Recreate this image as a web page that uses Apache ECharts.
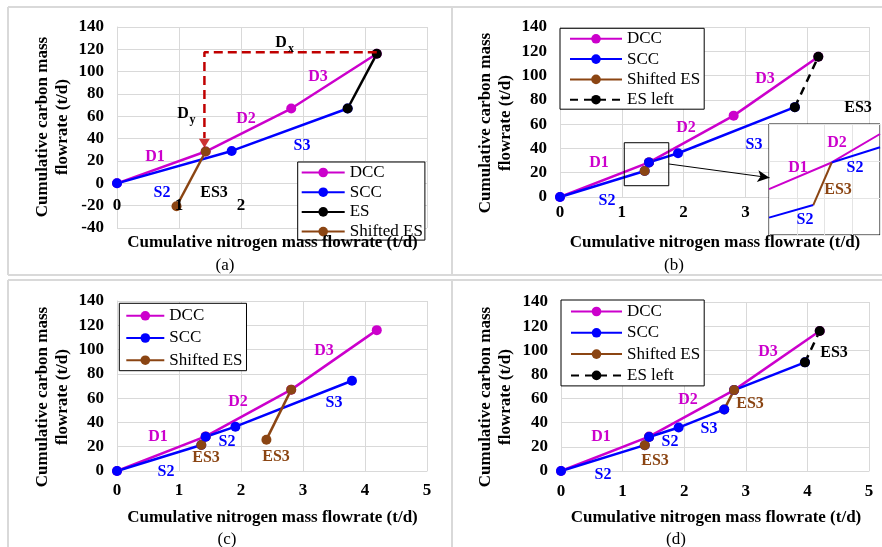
<!DOCTYPE html>
<html><head><meta charset="utf-8">
<script src="https://cdn.jsdelivr.net/npm/echarts@6/dist/echarts.min.js"></script>
<style>html,body{margin:0;padding:0;background:#fff}#c{width:882px;height:547px}</style>
</head><body><div id="c"></div><script>
// ---------- data ----------
// Panel (a)
const A_DCC_X = [0, 1.43, 2.81, 4.19], A_DCC_Y = [0, 28.5, 67, 116];
const A_SCC_X = [0, 1.85, 3.72],       A_SCC_Y = [0, 29, 67];
const A_ES_X  = [3.72, 4.19],          A_ES_Y  = [67, 116];
const A_SES_X = [0.96, 1.43],          A_SES_Y = [-20.5, 28.5];
const A_DASH_X = [4.19, 1.41, 1.41],   A_DASH_Y = [117.3, 117.3, 40.5];
const A_ARROW_X = [1.41],              A_ARROW_Y = [35.8];
// Panel (b)
const B_DCC_X = [0, 1.44, 2.81, 4.18], B_DCC_Y = [0, 28.5, 67, 115.5];
const B_SCC1_X = [0, 1.37],            B_SCC1_Y = [0, 21.4];
const B_SES_X = [1.37, 1.44],          B_SES_Y = [21.4, 28.5];
const B_SCC2_X = [1.44, 1.91, 3.80],   B_SCC2_Y = [28.5, 36, 74];
const B_ESL_X = [3.80, 4.18],          B_ESL_Y = [74, 115.5];
const B_BOX_X = [1.04, 1.76, 1.76, 1.04, 1.04], B_BOX_Y = [9.3, 9.3, 44.7, 44.7, 9.3];
const B_LINK_FROM = [1.76, 27.2], B_LINK_TO = [3.39, 15.9];
// Inset of (b)
const I_DCC_X = [1.0, 1.452, 1.8],     I_DCC_Y = [22.4, 29.6, 37.3];
const I_SCCU_X = [1.452, 1.8],         I_SCCU_Y = [29.6, 33.7];
const I_SCCL_X = [1.0, 1.319],         I_SCCL_Y = [14.7, 18.1];
const I_SES_X = [1.319, 1.452],        I_SES_Y = [18.1, 29.6];
// Panel (c)
const C_DCC_X = [0, 1.43, 2.81, 4.19], C_DCC_Y = [0, 28.5, 67, 116];
const C_SCC1_X = [0, 1.36],            C_SCC1_Y = [0, 21.4];
const C_SES1_X = [1.36, 1.43],         C_SES1_Y = [21.4, 28.2];
const C_SCC2_X = [1.43, 1.91, 3.79],   C_SCC2_Y = [28.2, 36.5, 74.3];
const C_SES2_X = [2.41, 2.81],         C_SES2_Y = [25.8, 67];
// Panel (d)
const D_DCC_X = [0, 1.43, 2.81, 4.2],  D_DCC_Y = [0, 28.5, 67, 116];
const D_SCC1_X = [0, 1.36],            D_SCC1_Y = [0, 21.4];
const D_SES1_X = [1.36, 1.43],         D_SES1_Y = [21.4, 28.2];
const D_SCC3_X = [2.81, 3.96],         D_SCC3_Y = [67, 90];
const D_SES2_X = [2.65, 2.81],         D_SES2_Y = [51, 67];
const D_SCC2_X = [1.43, 1.91, 2.65],   D_SCC2_Y = [28.2, 36, 51];
const D_ESL_X = [3.96, 4.2],           D_ESL_Y = [90, 116];

const LEG_A = ['DCC', 'SCC', 'ES', 'Shifted ES'];
const LEG_B = ['DCC', 'SCC', 'Shifted ES', 'ES left'];
const LEG_C = ['DCC', 'SCC', 'Shifted ES'];
const LEG_D = ['DCC', 'SCC', 'Shifted ES', 'ES left'];

const Y_TITLE = ['Cumulative carbon mass', 'flowrate (t/d)'];
const X_TITLE = 'Cumulative nitrogen mass flowrate (t/d)';

// ---------- styling ----------
const FONT = '"Liberation Serif","Times New Roman",serif';
const MAG = '#CC00CC', BLU = '#0000FF', BRN = '#8B4513', BLK = '#000000', RED = '#C00000', GRIDC = '#d9d9d9';

function pts(xs, ys) { return xs.map((x, i) => [x, ys[i]]); }
function ser(name, xs, ys, color, gi, extra) {
  return Object.assign({
    type: 'line', name, xAxisIndex: gi, yAxisIndex: gi, data: pts(xs, ys),
    symbol: 'circle', symbolSize: 10, showSymbol: true,
    lineStyle: { color, width: 2.5 }, itemStyle: { color },
    animation: false, z: 2
  }, extra || {});
}
function xax(gi, margin, fmt, offset, showLabel) {
  return {
    type: 'value', gridIndex: gi, position: 'bottom', min: 0, max: 5, interval: 1, offset: offset || 0,
    axisLine: { show: true, onZero: false, lineStyle: { color: GRIDC, width: 1 } },
    axisTick: { show: false },
    splitLine: { show: true, lineStyle: { color: GRIDC, width: 1 } },
    axisLabel: { show: showLabel !== false, color: '#000', fontFamily: FONT, fontWeight: 'bold', fontSize: 17, margin, formatter: fmt }
  };
}
function yax(gi, min) {
  return {
    type: 'value', gridIndex: gi, min, max: 140, interval: 20,
    axisLine: { show: true, onZero: false, lineStyle: { color: GRIDC, width: 1 } },
    axisTick: { show: false },
    splitLine: { show: true, lineStyle: { color: GRIDC, width: 1 } },
    axisLabel: { color: '#000', fontFamily: FONT, fontWeight: 'bold', fontSize: 17, margin: 13 }
  };
}
function legend(data, left, top, itemWidth, gap, padding) {
  return {
    data, orient: 'vertical', left, top, itemWidth, itemHeight: 12, itemGap: gap, padding,
    backgroundColor: '#fff', borderColor: '#000', borderWidth: 1, selectedMode: false,
    textStyle: { fontFamily: FONT, fontSize: 17, color: '#000', lineHeight: 14 }
  };
}

const series = [
  // (a)
  ser('DCC', A_DCC_X, A_DCC_Y, MAG, 0),
  ser('SCC', A_SCC_X, A_SCC_Y, BLU, 0),
  ser('ES', A_ES_X, A_ES_Y, BLK, 0),
  ser('Shifted ES', A_SES_X, A_SES_Y, BRN, 0),
  { type: 'line', xAxisIndex: 0, yAxisIndex: 0, data: pts(A_DASH_X, A_DASH_Y), showSymbol: false, symbol: 'none',
    lineStyle: { color: RED, width: 2.5, type: [9, 5] }, animation: false, z: 3 },
  { type: 'scatter', xAxisIndex: 0, yAxisIndex: 0, data: pts(A_ARROW_X, A_ARROW_Y), symbol: 'triangle',
    symbolSize: [11, 9], symbolRotate: 180, itemStyle: { color: RED }, animation: false, z: 3 },
  // (b)
  ser('DCC', B_DCC_X, B_DCC_Y, MAG, 1),
  ser('SCC', B_SCC1_X, B_SCC1_Y, BLU, 1),
  ser('Shifted ES', B_SES_X, B_SES_Y, BRN, 1),
  ser('SCC', B_SCC2_X, B_SCC2_Y, BLU, 1),
  ser('ES left', B_ESL_X, B_ESL_Y, BLK, 1, { lineStyle: { color: BLK, width: 2.5, type: [8, 6] } }),
  { type: 'line', xAxisIndex: 1, yAxisIndex: 1, data: pts(B_BOX_X, B_BOX_Y), symbol: 'none', showSymbol: false,
    lineStyle: { color: '#000', width: 1 }, animation: false, z: 3,
    markLine: { silent: true, animation: false, symbol: ['none', 'arrow'], symbolSize: [9, 12],
      label: { show: false }, lineStyle: { color: '#000', width: 1, type: 'solid' },
      data: [[{ coord: B_LINK_FROM }, { coord: B_LINK_TO }]] } },
  // inset
  ser('DCC', I_DCC_X, I_DCC_Y, MAG, 4, { showSymbol: false, symbol: 'none', lineStyle: { color: MAG, width: 2 }, z: 6 }),
  ser('SCC', I_SCCU_X, I_SCCU_Y, BLU, 4, { showSymbol: false, symbol: 'none', lineStyle: { color: BLU, width: 2 }, z: 6 }),
  ser('SCC', I_SCCL_X, I_SCCL_Y, BLU, 4, { showSymbol: false, symbol: 'none', lineStyle: { color: BLU, width: 2 }, z: 6 }),
  ser('Shifted ES', I_SES_X, I_SES_Y, BRN, 4, { showSymbol: false, symbol: 'none', lineStyle: { color: BRN, width: 2 }, z: 6 }),
  // (c)
  ser('DCC', C_DCC_X, C_DCC_Y, MAG, 2),
  ser('SCC', C_SCC1_X, C_SCC1_Y, BLU, 2),
  ser('Shifted ES', C_SES1_X, C_SES1_Y, BRN, 2),
  ser('SCC', C_SCC2_X, C_SCC2_Y, BLU, 2),
  ser('Shifted ES', C_SES2_X, C_SES2_Y, BRN, 2),
  // (d)
  ser('DCC', D_DCC_X, D_DCC_Y, MAG, 3),
  ser('SCC', D_SCC1_X, D_SCC1_Y, BLU, 3),
  ser('Shifted ES', D_SES1_X, D_SES1_Y, BRN, 3),
  ser('SCC', D_SCC3_X, D_SCC3_Y, BLU, 3),
  ser('Shifted ES', D_SES2_X, D_SES2_Y, BRN, 3),
  ser('SCC', D_SCC2_X, D_SCC2_Y, BLU, 3),
  ser('ES left', D_ESL_X, D_ESL_Y, BLK, 3, { lineStyle: { color: BLK, width: 2.5, type: [8, 6] } })
];

// annotation texts: [text, x, y, color, size]
const NOTES = [
  // (a)
  ['D1', 155, 157, MAG], ['D2', 246, 119, MAG], ['D3', 318, 77, MAG],
  ['S3', 302, 146, BLU], ['S2', 162, 193, BLU], ['ES3', 214, 193, BLK],
  ['D', 281, 42.5, BLK], ['x', 291, 48.5, BLK, 12], ['D', 183, 114, BLK], ['y', 192.5, 120, BLK, 12],
  // (b)
  ['D1', 599, 163, MAG], ['S2', 607, 201, BLU], ['D2', 686, 128, MAG], ['S3', 754, 145, BLU],
  ['D3', 765, 79, MAG], ['ES3', 858, 108, BLK],
  ['D2', 837, 143, MAG], ['D1', 798, 168, MAG], ['S2', 855, 168, BLU], ['ES3', 838, 190, BRN], ['S2', 805, 220, BLU],
  // (c)
  ['D1', 158, 437, MAG], ['S2', 166, 472, BLU], ['ES3', 206, 458, BRN], ['S2', 227, 442, BLU],
  ['D2', 238, 402, MAG], ['S3', 334, 403, BLU], ['D3', 324, 351, MAG], ['ES3', 276, 457, BRN],
  // (d)
  ['D1', 601, 437, MAG], ['S2', 603, 475, BLU], ['ES3', 655, 461, BRN], ['S2', 670, 442, BLU],
  ['S3', 709, 429, BLU], ['D2', 688, 400, MAG], ['ES3', 750, 404, BRN], ['D3', 768, 352, MAG], ['ES3', 834, 353, BLK]
];

const graphic = [];
// panel frame lines
[[8, 7, 882, 7], [8, 7, 8, 275], [8, 280, 8, 547], [452, 7, 452, 275], [452, 280, 452, 547],
 [8, 275, 882, 275], [8, 280, 882, 280]].forEach(l => graphic.push({
  type: 'line', shape: { x1: l[0], y1: l[1], x2: l[2], y2: l[3] }, style: { stroke: '#d9d9d9', lineWidth: 2 }, z: 0, silent: true }));
NOTES.forEach(n => graphic.push({
  type: 'text', x: n[1], y: n[2], z: 20, silent: true,
  style: { text: n[0], fill: n[3], font: 'bold ' + (n[4] || 16) + 'px ' + FONT, align: 'center', verticalAlign: 'middle' } }));
// axis titles
[[43, 63, 127], [486, 506, 123], [43, 63, 397], [486, 506, 397]].forEach(t => {
  graphic.push({ type: 'text', x: t[0], y: t[2], rotation: Math.PI / 2, z: 20, silent: true,
    style: { text: Y_TITLE[0], fill: '#000', font: 'bold 17px ' + FONT, align: 'center', verticalAlign: 'middle' } });
  graphic.push({ type: 'text', x: t[1], y: t[2], rotation: Math.PI / 2, z: 20, silent: true,
    style: { text: Y_TITLE[1], fill: '#000', font: 'bold 17px ' + FONT, align: 'center', verticalAlign: 'middle' } });
});
[[272.5, 243], [715, 243], [272.5, 518], [716, 518]].forEach(t => graphic.push({
  type: 'text', x: t[0], y: t[1], z: 20, silent: true,
  style: { text: X_TITLE, fill: '#000', font: 'bold 17px ' + FONT, align: 'center', verticalAlign: 'middle' } }));
[['(a)', 225, 265.5], ['(b)', 674, 265.5], ['(c)', 227, 540], ['(d)', 676, 540]].forEach(t => graphic.push({
  type: 'text', x: t[1], y: t[2], z: 20, silent: true,
  style: { text: t[0], fill: '#000', font: '17px ' + FONT, align: 'center', verticalAlign: 'middle' } }));

// label-only axis for panel (a), drawn above the series (its tick labels sit inside the plot)
const aLabelAxis = xax(0, 14, v => (v <= 2 ? String(v) : ''), -44.7);
aLabelAxis.axisLine = { show: false };
aLabelAxis.splitLine = { show: false };
aLabelAxis.z = 8;

const chart = echarts.init(document.getElementById('c'), null, { renderer: 'canvas' });
chart.setOption({
  backgroundColor: '#fff',
  animation: false,
  grid: [
    { left: 117, top: 27, width: 310, height: 201 },
    { left: 560, top: 27, width: 309, height: 170 },
    { left: 117, top: 301, width: 310, height: 170 },
    { left: 561, top: 302, width: 308, height: 169 },
    { left: 769, top: 124, width: 111, height: 111, show: true, backgroundColor: '#fff', borderColor: '#000', borderWidth: 1, z: 3 }
  ],
  xAxis: [
    xax(0, 14, null, -44.7, false),
    xax(1, 7),
    xax(2, 11),
    xax(3, 12),
    { type: 'value', gridIndex: 4, min: 1.0, max: 1.8, interval: 0.2, z: 4,
      axisLine: { show: false }, axisTick: { show: false }, axisLabel: { show: false },
      splitLine: { show: true, lineStyle: { color: '#e4e4e4', width: 1 } } },
    aLabelAxis
  ],
  yAxis: [
    yax(0, -40), yax(1, 0), yax(2, 0), yax(3, 0),
    { type: 'value', gridIndex: 4, min: 10, max: 40, interval: 10, z: 4,
      axisLine: { show: false }, axisTick: { show: false }, axisLabel: { show: false },
      splitLine: { show: true, lineStyle: { color: '#e4e4e4', width: 1 } } }
  ],
  legend: [
    legend(LEG_A, 297.7, 162, 43, 2.7, [2, 2, 0, 3]),
    legend(LEG_B, 560, 28.3, 52, 3.3, [2, 4, 1, 9]),
    legend(LEG_C, 119.3, 303.3, 38, 5.2, [4, 4, 2, 6]),
    legend(LEG_D, 561, 300, 51, 4.3, [3, 4, 2, 9])
  ],
  series,
  graphic
});
</script></body></html>
